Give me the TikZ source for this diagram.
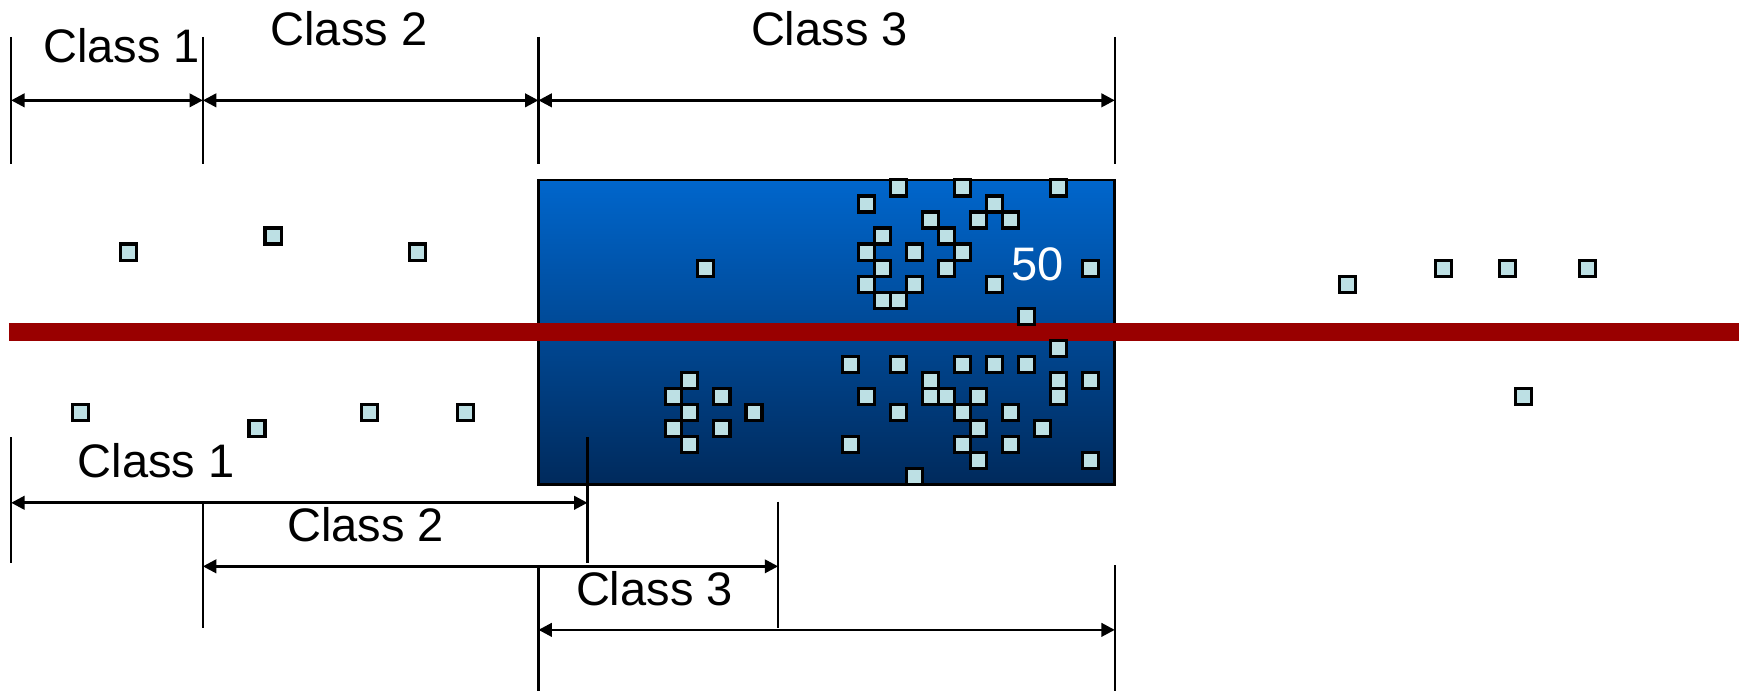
\documentclass[tikz,border=0pt]{standalone}
\usepackage{fontspec}
\setmainfont{Liberation Sans}
\usetikzlibrary{arrows.meta}
\definecolor{sqfill}{RGB}{189,224,228}
\definecolor{cutred}{RGB}{153,0,0}
\definecolor{boxtop}{RGB}{0,102,204}
\definecolor{boxbottom}{RGB}{0,42,92}
\tikzset{
	tick/.style = {line width=0.6pt},
	span/.style = {{Triangle[length=1.2mm,width=1.2mm]}-{Triangle[length=1.2mm,width=1.2mm]}, line width=0.7pt},
	classtxt/.style = {inner sep=0pt, font=\fontsize{12}{14}\selectfont},
	pt/.style = {draw, line width=0.8pt, fill=sqfill, minimum size=1.438mm, inner sep=0pt, outer sep=0pt}
}

\begin{document}
\begin{tikzpicture}[x=0.1mm, y=-0.1mm]
	\useasboundingbox (0,0) rectangle (1568,622);
	% upper ranges
	\foreach \x in {10,182,483,1000}
		\draw[tick] (\x,33) -- (\x,147);
	\coordinate (u0) at (10,90);
	\coordinate (u1) at (182,90);
	\coordinate (u2) at (483,90);
	\coordinate (u3) at (1000,90);
	\draw[span] (u0) -- (u1);
	\draw[span] (u1) -- (u2);
	\draw[span] (u2) -- (u3);
	\node[classtxt] (uc1) at (109,41) {Class 1};
	\node[classtxt] (uc2) at (313,26) {Class 2};
	\node[classtxt] (uc3) at (744,26) {Class 3};

	% block
	\node[draw, line width=0.7pt, top color=boxtop, bottom color=boxbottom,
		minimum width=51.7mm, minimum height=27.3mm, inner sep=0pt] (block) at (741.5,298) {};

	% lower ranges
	\foreach \x/\y in {10/392, 527/392, 182/450, 698/450, 483/507, 1000/507}
		\draw[tick] (\x,\y) -- ++(0,113);
	\coordinate (l1a) at (10,451);
	\coordinate (l1b) at (527,451);
	\coordinate (l2a) at (182,508);
	\coordinate (l2b) at (698,508);
	\coordinate (l3a) at (483,565);
	\coordinate (l3b) at (1000,565);
	\draw[span] (l1a) -- (l1b);
	\draw[span] (l2a) -- (l2b);
	\draw[span] (l3a) -- (l3b);
	\node[classtxt] (lc1) at (140,413) {Class 1};
	\node[classtxt] (lc2) at (328,471) {Class 2};
	\node[classtxt] (lc3) at (587,528) {Class 3};

	% cut line
	\coordinate (cutl) at (8,298);
	\coordinate (cutr) at (1560,298);
	\draw[cutred, line width=1.6mm] (cutl) -- (cutr);

	% samples on a grid
	\begin{scope}[shift={(777,298)}, x=1.438mm, y=-1.438mm]
		\foreach \i/\j [count=\n] in {
			-46/-5, -37/-6, -28/-5, -10/-4,
			2/-9, 6/-9, 12/-9, 0/-8, 8/-8, 4/-7, 7/-7, 9/-7, 1/-6, 5/-6,
			0/-5, 3/-5, 6/-5, 1/-4, 5/-4, 14/-4, 0/-3, 3/-3, 8/-3,
			1/-2, 2/-2, 10/-1,
			30/-3, 36/-4, 40/-4, 45/-4,
			12/1, -1/2, 2/2, 6/2, 8/2, 10/2,
			-11/3, 4/3, 12/3, 14/3,
			-12/4, -9/4, 0/4, 4/4, 5/4, 7/4, 12/4,
			-11/5, -7/5, 2/5, 6/5, 9/5,
			-12/6, -9/6, 7/6, 11/6,
			-11/7, -1/7, 6/7, 9/7,
			7/8, 14/8, 3/9,
			-49/5, -38/6, -31/5, -25/5, 41/4}
			\node[pt] (s\n) at (\i,\j) {};
	\end{scope}

	\node[classtxt, text=white] (count) at (931,237) {50};
\end{tikzpicture}
\end{document}
